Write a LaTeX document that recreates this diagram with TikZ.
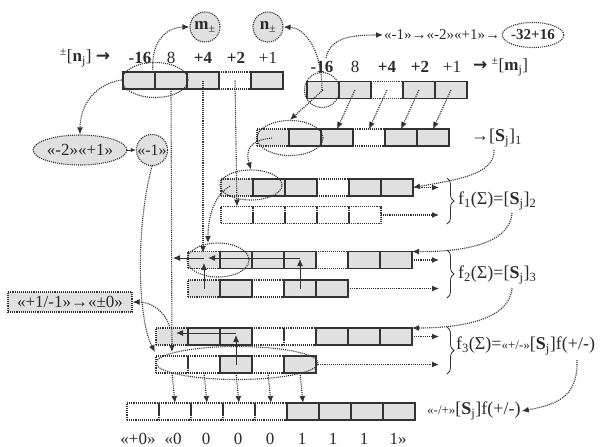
\documentclass[tikz,border=0pt]{standalone}
\usepackage{fontspec}
\setmainfont{Liberation Serif}
\newfontfamily\arrfont{DejaVu Sans}
\usetikzlibrary{shapes.geometric,arrows.meta,decorations.pathreplacing}
\definecolor{dk}{HTML}{333333}
\definecolor{cg}{HTML}{E0E0E0}
\definecolor{tc}{HTML}{2A2A2A}
\newcommand\myfs[1]{\fontsize{#1}{#1}\selectfont}
\newcommand\cellrow[4]{%
  \foreach \t [count=\i] in {#4} \path ({#2+32*\i-16},#3) node[passa\t] {};
  \foreach \t [count=\i] in {#4} \path ({#2+32*\i-16},#3) node[passb\t] (#1\i) {};
}
\begin{document}
\begin{tikzpicture}[x=1pt,y=-1pt,
  dotline/.style={draw=dk, line width=1.1pt, dash pattern=on 1.1pt off 1pt},
  darr/.style={dotline, -{Latex[length=7pt,width=6pt]}},
  sarr/.style={draw=dk, line width=1pt, -{Latex[length=7pt,width=6pt]}},
  cellbase/.style={rectangle, minimum width=32pt, minimum height=17pt, inner sep=0pt, outer sep=0pt},
  passae/.style={cellbase, dotline},
  passad/.style={cellbase, dotline, fill=cg},
  passag/.style={cellbase, dotline, fill=cg},
  passbe/.style={cellbase},
  passbd/.style={cellbase},
  passbg/.style={cellbase, draw=dk, line width=1.3pt},
  ell/.style={ellipse, dotline, inner sep=0pt},
  bub/.style={dotline, fill=cg, inner sep=0pt, text=tc},
  lab/.style={text=tc, inner sep=1pt},
  brc/.style={draw=dk, line width=0.8pt, decorate, decoration={brace, amplitude=7pt}},
]
\useasboundingbox (0,0) rectangle (605,447);

% ---------- rows of cells ----------
\cellrow{A}{123}{80.5}{g,g,g,e,g}
\cellrow{B}{307}{90}{g,g,e,g,g}
\cellrow{C}{257}{137.5}{d,g,g,e,g,g}
\cellrow{P}{221}{187.5}{d,g,g,e,g,g}
\cellrow{Q}{221}{215}{e,e,e,e,e}
\cellrow{D}{188}{260}{d,g,g,g,e,g,g}
\cellrow{E}{188}{288.5}{d,g,e,g,g}
\cellrow{F}{156}{336.5}{d,g,g,e,e,g,g,g}
\cellrow{G}{156}{364.5}{e,e,g,e,g}
\cellrow{H}{127}{411.5}{e,e,e,e,e,g,g,g,g}

% ---------- ellipses ----------
\node[ell, minimum width=66pt, minimum height=35pt] (eA) at (155,80) {};
\node[circle, dotline, minimum size=35pt, inner sep=0pt] (eB) at (322,90) {};
\node[ell, minimum width=66pt, minimum height=35pt] (eC) at (290,138) {};
\node[ell, minimum width=62pt, minimum height=30pt] (eP) at (251,185) {};
\node[ell, minimum width=62pt, minimum height=34pt] (eD) at (218,260) {};
\node[ell, minimum width=162pt, minimum height=33pt] (eG) at (237,363) {};

% ---------- labels ----------
\node[lab, font=\myfs{17}] (nj) at (85,58) {\textsuperscript{±}[\textbf{n}\textsubscript{j}] {\arrfont\bfseries →}};
\node[lab, font=\myfs{17}\bfseries] (a1) at (140,58) {-16};
\node[lab, font=\myfs{17}] (a2) at (171,58) {8};
\node[lab, font=\myfs{17}\bfseries] (a3) at (203,58) {+4};
\node[lab, font=\myfs{17}\bfseries] (a4) at (236,58) {+2};
\node[lab, font=\myfs{17}] (a5) at (268,58) {+1};

\node[lab, font=\myfs{17}\bfseries] (b1) at (322,67) {-16};
\node[lab, font=\myfs{17}] (b2) at (355,67) {8};
\node[lab, font=\myfs{17}\bfseries] (b3) at (387,67) {+4};
\node[lab, font=\myfs{17}\bfseries] (b4) at (420,67) {+2};
\node[lab, font=\myfs{17}] (b5) at (452,67) {+1};
\node[lab, font=\myfs{17}, anchor=west] (mj) at (472,67) {{\arrfont\bfseries →} \textsuperscript{±}[\textbf{m}\textsubscript{j}]};

\node[bub, circle, minimum size=30pt, font=\myfs{17}] (mp) at (205,27) {\textbf{m}\textsubscript{±}};
\node[bub, circle, minimum size=30pt, font=\myfs{17}] (np) at (268,27) {\textbf{n}\textsubscript{±}};

\node[lab, font=\myfs{15}, anchor=west] (chain) at (383,35) {«-1»→«-2»«+1»→};
\node[bub, fill=none, ellipse, minimum width=60pt, minimum height=25pt, font=\myfs{15}\bfseries] (e32) at (533,35) {-32+16};

\node[bub, ellipse, minimum width=76pt, minimum height=30pt, font=\myfs{17}] (e21) at (80,150) {«-2»«+1»};
\node[bub, circle, minimum size=30pt, font=\myfs{16}] (m1) at (152,150) {«-1»};

\node[bub, rectangle, minimum width=124pt, minimum height=20pt, font=\myfs{17}] (pm) at (70,302) {«+1/-1»→«±0»};

\node[lab, font=\myfs{18}, anchor=west] (s1) at (470,138) {→[\textbf{S}\textsubscript{j}]\textsubscript{1}};
\node[lab, font=\myfs{18}, anchor=west] (f1) at (457,201) {f\textsubscript{1}(Σ)=[\textbf{S}\textsubscript{j}]\textsubscript{2}};
\node[lab, font=\myfs{18}, anchor=west] (f2) at (457,275) {f\textsubscript{2}(Σ)=[\textbf{S}\textsubscript{j}]\textsubscript{3}};
\node[lab, font=\myfs{18}, anchor=west] (f3) at (455,346) {f\textsubscript{3}(Σ)={\myfs{13}«+/-»}[\textbf{S}\textsubscript{j}]f(+/-)};
\node[lab, font=\myfs{18}, anchor=west] (fm) at (426,411) {{\myfs{13}«-/+»}[\textbf{S}\textsubscript{j}]f(+/-)};

\node[lab, inner sep=0pt, font=\myfs{17}] (z0) at (138,439) {«+0»};
\node[lab, inner sep=0pt, font=\myfs{17}] (z1) at (173,439) {«0};
\foreach \v/\x [count=\k] in {0/206,0/238,0/270,1/302,1/333,1/364} \node[lab, inner sep=0pt, font=\myfs{17}] (zz\k) at (\x,439) {\v};
\node[lab, inner sep=0pt, font=\myfs{17}] (z9) at (398,439) {1»};

% ---------- braces ----------
\draw[brc] (447,178) -- (447,224);
\draw[brc] (447,250) -- (447,298);
\draw[brc] (447,327) -- (447,374);

% ---------- connectors ----------
\draw[darr] (153,72) .. controls (150,38) and (170,27) .. (mp.west);
\draw[darr] (eB.center) .. controls (322,50) and (305,28) .. (np.east);
\draw[darr] (326,58) .. controls (330,38) and (350,35) .. (chain.west);
\draw[darr] (eA.west) .. controls (95,84) and (80,105) .. (e21.north);
\draw[draw=dk, line width=0.6pt, -{Latex[length=5pt,width=4pt]}] (e21.east) -- (m1.west);
\draw[darr] (m1.south) .. controls (135,230) and (138,320) .. (155,352);
\draw[darr] (170,328) .. controls (165,310) and (150,302) .. (pm.east);

\draw[darr] (A2.south) -- (172,352);
\draw[darr] (A3.center) -- (203,253);
\draw[darr] (A4.center) -- (Q1.north);

\draw[darr] (B1.center) -- (eC.north);
\draw[darr] (B2.center) -- (C3.north);
\draw[darr] (B3.center) -- (C4.north);
\draw[darr] (B4.center) -- (C5.north);
\draw[darr] (B5.center) -- (C6.north);

\draw[darr] (272,138) .. controls (250,140) and (245,150) .. (eP.north);
\draw[darr] (494,150) .. controls (495,175) and (455,180) .. (P6.east);
\draw[darr] (230,186) .. controls (215,195) and (208,215) .. (208,243);
\draw[darr] (512,213) .. controls (510,245) and (460,252) .. (D7.north east);
\draw[darr] (512,288) .. controls (510,320) and (460,328) .. (F8.north east);
\draw[darr] (577,360) .. controls (578,395) and (560,404) .. (fm.east);

\draw[darr] (P6.east) -- (439,187.5);
\draw[darr] (Q5.east) -- (439,215);
\draw[darr] (D7.east) -- (439,260);
\draw[darr] (E5.east) -- (439,288.5);
\draw[darr] (F8.east) -- (439,336.5);
\draw[darr] (G5.east) -- (439,364.5);

% solid arrows
\draw[sarr] (E1.center) -- (204,263);
\draw[sarr] (E4.center) -- (300,259);
\draw[sarr] (300,258) -- (208,258);
\draw[sarr] (204,258) -- (173,258);
\draw[sarr] (G3.center) -- (236,335);
\draw[sarr] (236,333) -- (176,333);

% down to last row
\draw[darr] (G1.south) -- (H2.north);
\draw[darr] (G2.south) -- (H3.north);
\draw[darr] (G3.south) -- (H4.north);
\draw[darr] (G4.south) -- (H5.north);
\draw[darr] (G5.south) -- (H6.north);
\end{tikzpicture}
\end{document}
